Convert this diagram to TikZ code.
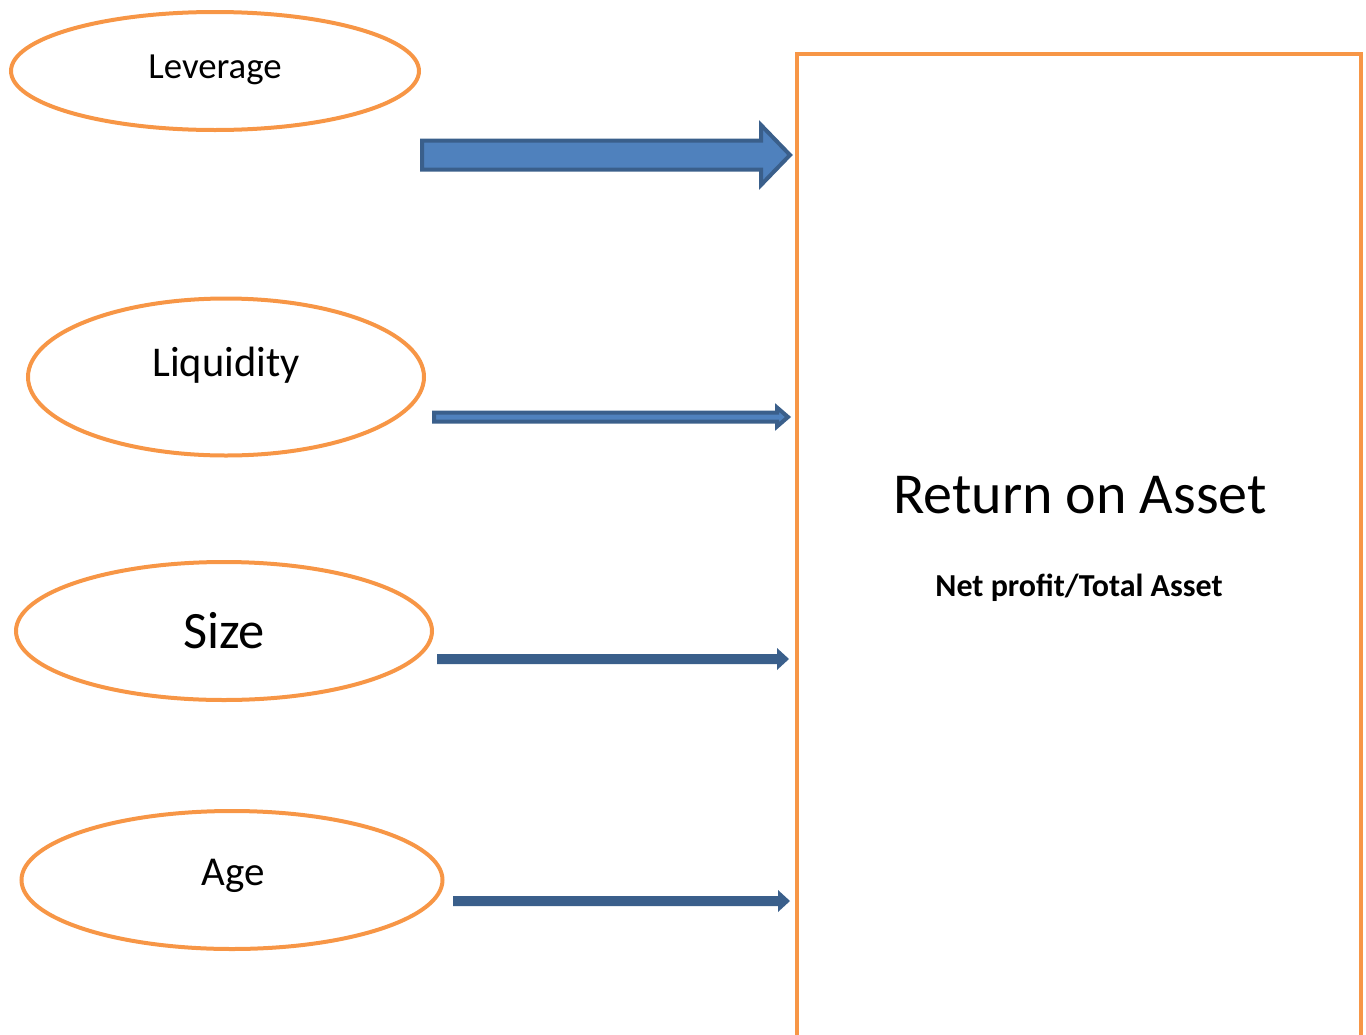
\documentclass[tikz,border=0pt]{standalone}
\usepackage{fontspec}
\setmainfont{Carlito}
\usetikzlibrary{shapes.geometric,calc}
\definecolor{ringorange}{HTML}{F79646}
\definecolor{arrowfill}{HTML}{4F81BD}
\definecolor{arrowline}{HTML}{3A5F8B}
\tikzset{
  factor/.style={ellipse, draw=ringorange, line width=4pt, inner sep=0pt},
  bigarrow/.style={fill=arrowfill, draw=arrowline, line width=4pt, line join=miter},
  hollowarrow/.style={fill=arrowfill, draw=arrowline, line width=4pt, line join=miter},
  solidarrow/.style={fill=arrowline, draw=none},
}
\begin{document}
\begin{tikzpicture}[x=1pt,y=-1pt]
\useasboundingbox (0,0) rectangle (1366,1034);

% factor ellipses
\node[factor, minimum width=408pt, minimum height=118pt] (lev) at (215,71) {};
\node[factor, minimum width=396pt, minimum height=157pt] (liq) at (226,377) {};
\node[factor, minimum width=416pt, minimum height=138pt] (size) at (224,631) {};
\node[factor, minimum width=421pt, minimum height=138pt] (age) at (232,880) {};

\node[font=\fontsize{36.8}{40}\selectfont] (levtext) at (215,70) {Leverage};
\node[font=\fontsize{42.4}{46}\selectfont] (liqtext) at (226,365) {Liquidity};
\node[font=\fontsize{52.5}{56}\selectfont] (sizetext) at (224,631) {Size};
\node[font=\fontsize{41}{44}\selectfont] (agetext) at (233,876) {Age};

% outcome box, open at the bottom
\coordinate (boxbl) at (797,1040);
\coordinate (boxtl) at (797,54);
\coordinate (boxtr) at (1361,54);
\coordinate (boxbr) at (1361,1040);
\draw[ringorange, line width=4pt, line join=miter] (boxbl) -- (boxtl) -- (boxtr) -- (boxbr);
\node[font=\fontsize{58}{62}\selectfont] (roa) at (1080,495) {Return on Asset};
\node[font=\bfseries\fontsize{32}{36}\selectfont] (roadef) at (1079,588) {Net profit/Total Asset};

% arrow ends
\coordinate (levS) at (422,155);  \coordinate (levE) at (790,155);
\coordinate (liqS) at (434,417);  \coordinate (liqE) at (788,417);
\coordinate (sizeS) at (437,659); \coordinate (sizeE) at (789,659);
\coordinate (ageS) at (453,901);  \coordinate (ageE) at (790,901);

% leverage: wide block arrow
\draw[bigarrow] ($(levS)+(0,-14.5)$) -- ($(levE)+(-29,-14.5)$) -- ($(levE)+(-29,-30)$)
  -- (levE) -- ($(levE)+(-29,30)$) -- ($(levE)+(-29,14.5)$) -- ($(levS)+(0,14.5)$) -- cycle;

% liquidity: thin outlined arrow
\draw[hollowarrow] ($(liqS)+(0,-4.5)$) -- ($(liqE)+(-11,-4.5)$) -- ($(liqE)+(-11,-9.5)$)
  -- (liqE) -- ($(liqE)+(-11,9.5)$) -- ($(liqE)+(-11,4.5)$) -- ($(liqS)+(0,4.5)$) -- cycle;

% size and age: thin solid arrows
\fill[solidarrow] ($(sizeS)+(0,-5)$) -- ($(sizeE)+(-12,-5)$) -- ($(sizeE)+(-12,-11)$)
  -- (sizeE) -- ($(sizeE)+(-12,11)$) -- ($(sizeE)+(-12,5)$) -- ($(sizeS)+(0,5)$) -- cycle;
\fill[solidarrow] ($(ageS)+(0,-5)$) -- ($(ageE)+(-12,-5)$) -- ($(ageE)+(-12,-11)$)
  -- (ageE) -- ($(ageE)+(-12,11)$) -- ($(ageE)+(-12,5)$) -- ($(ageS)+(0,5)$) -- cycle;
\end{tikzpicture}
\end{document}
